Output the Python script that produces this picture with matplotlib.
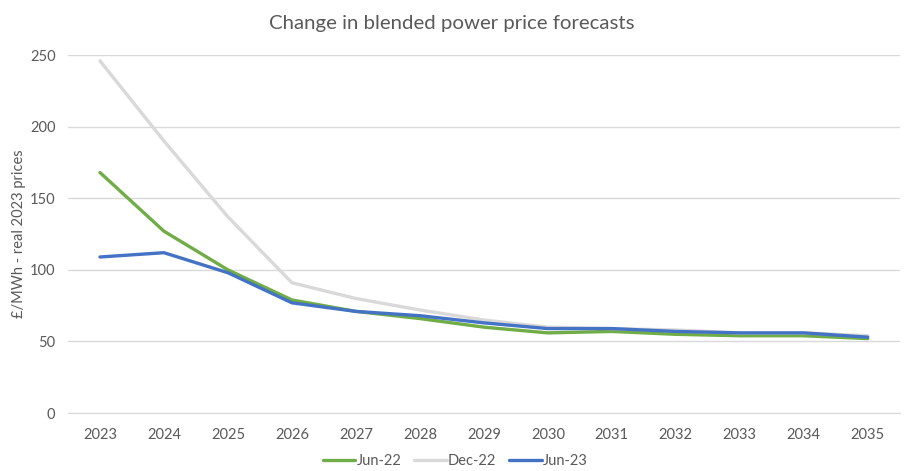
import matplotlib
matplotlib.use("Agg")
import matplotlib.pyplot as plt

years = [2023, 2024, 2025, 2026, 2027, 2028, 2029, 2030, 2031, 2032, 2033, 2034, 2035]
jun_22 = [168, 127, 100, 79, 71, 66, 60, 56, 57, 55, 54, 54, 52]
dec_22 = [246, 190, 137, 91, 80, 72, 65, 60, 59, 58, 56, 56, 54]
jun_23 = [109, 112, 98, 77, 71, 68, 63, 59, 59, 57, 56, 56, 53]
y_ticks = [0, 50, 100, 150, 200, 250]

plt.rcParams["font.family"] = ["Lato", "DejaVu Sans"]
text_color = "#595959"

fig = plt.figure(figsize=(9.09, 4.71), dpi=100)
ax = fig.add_axes([0.0748, 0.123, 0.915, 0.760])

ax.plot(years, jun_22, color="#70AD47", linewidth=2.4, label="Jun-22", solid_capstyle="round")
ax.plot(years, dec_22, color="#D9D9D9", linewidth=2.4, label="Dec-22", solid_capstyle="round")
ax.plot(years, jun_23, color="#4472C4", linewidth=2.4, label="Jun-23", solid_capstyle="round")

ax.set_xlim(2022.5, 2035.5)
ax.set_ylim(0, 250)
ax.set_yticks(y_ticks)
ax.set_xticks(years)
ax.set_xticklabels([str(y) for y in years])
ax.grid(axis="y", color="#D9D9D9", linewidth=1)
ax.set_axisbelow(True)
for s in ["top", "right", "left"]:
    ax.spines[s].set_visible(False)
ax.spines["bottom"].set_color("#D9D9D9")
ax.tick_params(axis="both", length=0, colors=text_color, labelsize=10.5)
ax.tick_params(axis="y", pad=9)
ax.tick_params(axis="x", pad=11)

ax.set_ylabel("£/MWh - real 2023 prices", color=text_color, fontsize=10.5, labelpad=3)
fig.suptitle("Change in blended power price forecasts", x=0.497, y=0.968,
             color=text_color, fontsize=14.7)

fig.legend(loc="lower center", bbox_to_anchor=(0.501, -0.022), ncol=3, frameon=False,
           fontsize=10.5, labelcolor=text_color, handlelength=2.2, handletextpad=0.1,
           columnspacing=0.9)

fig.savefig("out.png", dpi=100)
